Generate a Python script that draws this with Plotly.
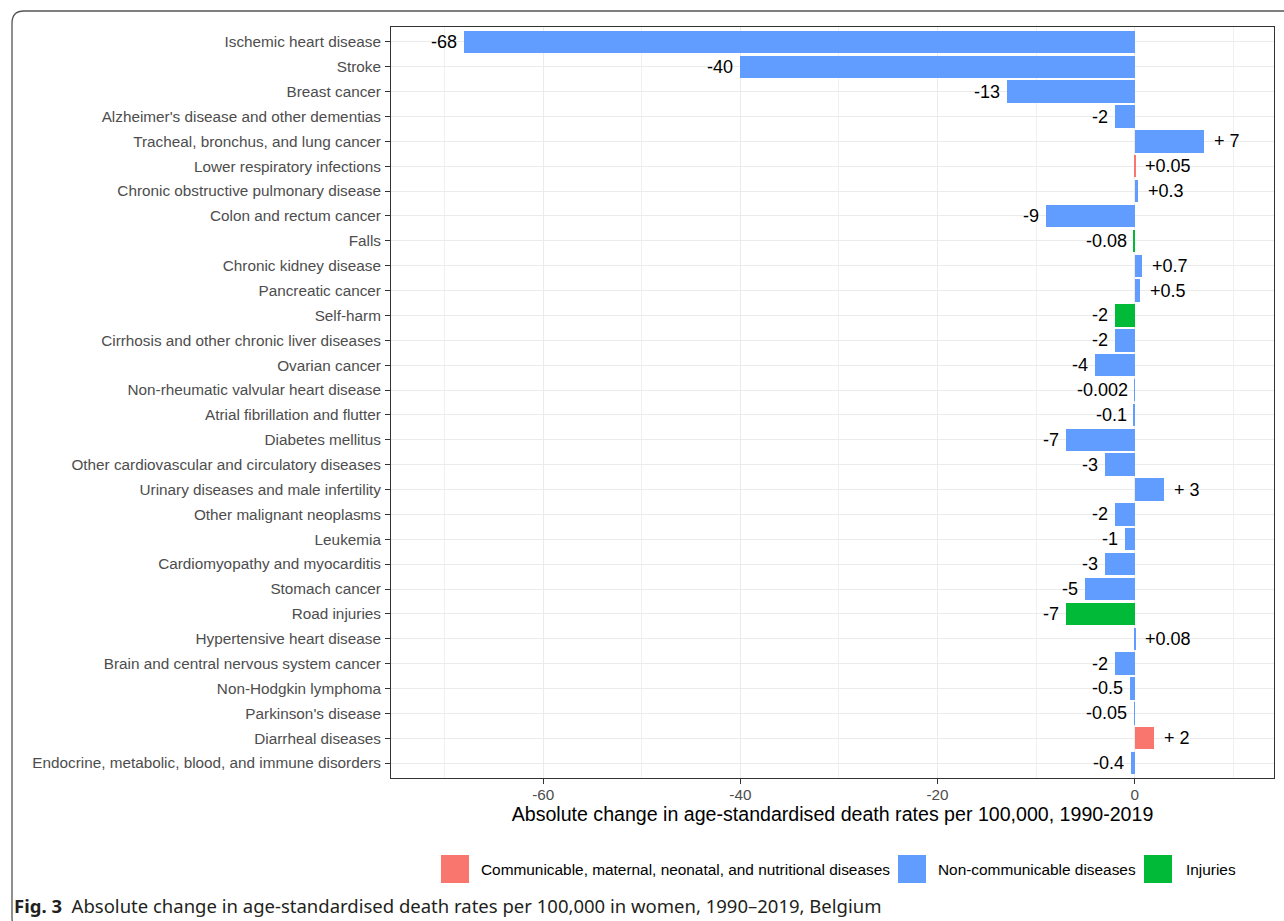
import plotly.graph_objects as go

# Causes of death (top to bottom) with their cause group and absolute change
categories = [
    "Ischemic heart disease",
    "Stroke",
    "Breast cancer",
    "Alzheimer's disease and other dementias",
    "Tracheal, bronchus, and lung cancer",
    "Lower respiratory infections",
    "Chronic obstructive pulmonary disease",
    "Colon and rectum cancer",
    "Falls",
    "Chronic kidney disease",
    "Pancreatic cancer",
    "Self-harm",
    "Cirrhosis and other chronic liver diseases",
    "Ovarian cancer",
    "Non-rheumatic valvular heart disease",
    "Atrial fibrillation and flutter",
    "Diabetes mellitus",
    "Other cardiovascular and circulatory diseases",
    "Urinary diseases and male infertility",
    "Other malignant neoplasms",
    "Leukemia",
    "Cardiomyopathy and myocarditis",
    "Stomach cancer",
    "Road injuries",
    "Hypertensive heart disease",
    "Brain and central nervous system cancer",
    "Non-Hodgkin lymphoma",
    "Parkinson's disease",
    "Diarrheal diseases",
    "Endocrine, metabolic, blood, and immune disorders",
]

changes = [
    -68, -40, -13, -2, 7, 0.05, 0.3, -9, -0.08, 0.7,
    0.5, -2, -2, -4, -0.002, -0.1, -7, -3, 3, -2,
    -1, -3, -5, -7, 0.08, -2, -0.5, -0.05, 2, -0.4,
]

COMM = "Communicable, maternal, neonatal, and nutritional diseases"
NCD = "Non-communicable diseases"
INJ = "Injuries"

groups = [
    NCD, NCD, NCD, NCD, NCD, COMM, NCD, NCD, INJ, NCD,
    NCD, INJ, NCD, NCD, NCD, NCD, NCD, NCD, NCD, NCD,
    NCD, NCD, NCD, INJ, NCD, NCD, NCD, NCD, COMM, NCD,
]

group_order = [COMM, NCD, INJ]
group_colors = {COMM: "#F8766D", NCD: "#619CFF", INJ: "#00BA38"}

x_ticks = [-60, -40, -20, 0]

FONT = "Liberation Sans, Arial, sans-serif"

# Figure geometry in pixels
W, H = 1284, 921
PL, PR, PT, PB = 391, 1274, 27, 778
PW, PH = PR - PL, PB - PT


def fx(px):
    return (px - PL) / PW


def fy(py):
    return (PB - py) / PH


def fmt(v):
    if v > 0:
        if float(v).is_integer():
            return "+ %d" % v
        return "+%g" % v
    return "%g" % v


fig = go.Figure()

for g in group_order:
    ys = [c for c, gg in zip(categories, groups) if gg == g]
    xs = [v for v, gg in zip(changes, groups) if gg == g]
    fig.add_trace(go.Bar(
        x=xs, y=ys, orientation="h", width=0.9,
        marker=dict(color=group_colors[g], line=dict(width=0)),
        name=g, showlegend=False,
        hovertemplate="%{y}: %{x}<extra></extra>",
    ))

annotations = []
for c, v in zip(categories, changes):
    annotations.append(dict(
        x=v, y=c, xref="x", yref="y", text=fmt(v), showarrow=False,
        xanchor="left" if v > 0 else "right",
        xshift=8 if v > 0 else -5,
        font=dict(family=FONT, size=18, color="#000000"),
    ))

# Legend at the bottom: colour keys with labels
legend_pos = {COMM: (441, 479), NCD: (898, 936), INJ: (1144, 1184)}
shapes = []
for g in group_order:
    kx, tx = legend_pos[g]
    shapes.append(dict(
        type="rect", xref="paper", yref="paper",
        x0=fx(kx), x1=fx(kx + 28), y0=fy(883), y1=fy(855),
        fillcolor=group_colors[g], line=dict(width=0),
    ))
    annotations.append(dict(
        x=fx(tx), y=fy(869), xref="paper", yref="paper", text=g,
        showarrow=False, xanchor="left", yanchor="middle",
        font=dict(family=FONT, size=15.4, color="#000000"),
    ))

# Caption
annotations.append(dict(
    x=fx(12), y=fy(905), xref="paper", yref="paper",
    text="<b>Fig. 3</b>  Absolute change in age-standardised death rates per 100,000 in women, 1990\u20132019, Belgium",
    showarrow=False, xanchor="left", yanchor="middle",
    font=dict(family="Noto Sans", size=18.5, color="#231f20"),
))

# Outer rounded frame
x0, y0, r = fx(12), fy(11), 12
path = (
    f"M {fx(1300)},{y0} L {fx(12 + r)},{y0} "
    f"Q {x0},{y0} {x0},{fy(11 + r)} "
    f"L {x0},{fy(918)} Q {x0},{fy(930)} {fx(24)},{fy(930)} L {fx(1300)},{fy(930)}"
)
shapes.append(dict(
    type="path", xref="paper", yref="paper", path=path,
    line=dict(color="#555555", width=1.3),
))

fig.update_layout(
    width=W, height=H,
    margin=dict(l=PL, r=W - PR, t=PT, b=H - PB, pad=0),
    paper_bgcolor="white", plot_bgcolor="white",
    barmode="overlay",
    bargap=0,
    showlegend=False,
    annotations=annotations,
    shapes=shapes,
    font=dict(family=FONT),
)

fig.update_xaxes(
    range=[-75.44, 14.13],
    tickmode="array", tickvals=x_ticks, ticktext=[str(t) for t in x_ticks],
    ticks="outside", ticklen=5, tickcolor="#333333", tickwidth=1,
    ticklabelstandoff=-2,
    tickfont=dict(family=FONT, size=15.3, color="#4D4D4D"),
    showgrid=True, gridcolor="#EBEBEB", gridwidth=1.4,
    minor=dict(tickvals=[-70, -50, -30, -10, 10], showgrid=True,
               gridcolor="#F0F0F0", gridwidth=0.8, ticks=""),
    zeroline=False,
    showline=True, linecolor="#333333", linewidth=1, mirror=True,
    title=dict(text="Absolute change in age-standardised death rates per 100,000, 1990-2019",
               font=dict(family=FONT, size=19.6, color="#000000"), standoff=0),
)

fig.update_yaxes(
    type="category", categoryorder="array", categoryarray=categories,
    range=[len(categories) - 0.4, -0.6],
    ticks="outside", ticklen=5, tickcolor="#333333", tickwidth=1,
    ticklabelstandoff=1,
    tickfont=dict(family=FONT, size=15.3, color="#4D4D4D"),
    showgrid=True, gridcolor="#EBEBEB", gridwidth=1.4,
    zeroline=False,
    showline=True, linecolor="#333333", linewidth=1, mirror=True,
)

fig.write_html("out.html")
